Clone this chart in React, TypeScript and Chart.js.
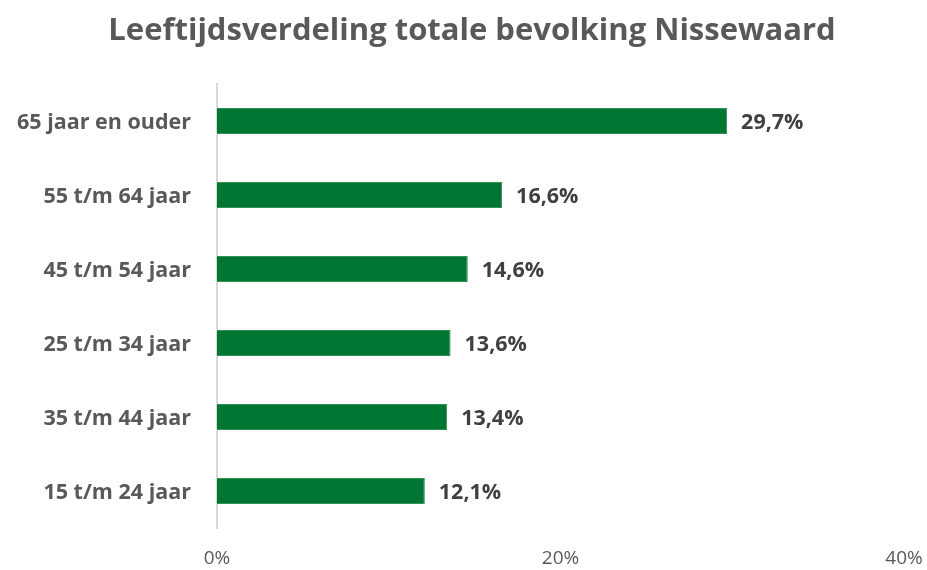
import React, { useEffect, useRef } from "react";
import { Chart, registerables } from "chart.js";

Chart.register(...registerables);

const categories = [
  "65 jaar en ouder",
  "55 t/m 64 jaar",
  "45 t/m 54 jaar",
  "25 t/m 34 jaar",
  "35 t/m 44 jaar",
  "15 t/m 24 jaar",
];
const values = [29.7, 16.6, 14.6, 13.6, 13.4, 12.1];
const xTicks = [0, 20, 40];
const titleText = "Leeftijdsverdeling totale bevolking Nissewaard";

const FONT = "'Open Sans', Lato, sans-serif";

const valueLabels = {
  id: "valueLabels",
  afterDatasetsDraw(chart: any) {
    const ctx = chart.ctx;
    const meta = chart.getDatasetMeta(0);
    ctx.save();
    ctx.font = `bold 21.5px ${FONT}`;
    ctx.fillStyle = "#404040";
    ctx.textAlign = "left";
    ctx.textBaseline = "middle";
    meta.data.forEach((bar: any, i: number) => {
      const txt = values[i].toFixed(1).replace(".", ",") + "%";
      ctx.fillText(txt, bar.x + 14, bar.y + 2);
    });
    ctx.restore();
  },
};

const titleDraw = {
  id: "titleDraw",
  afterDraw(chart: any) {
    const ctx = chart.ctx;
    ctx.save();
    ctx.font = `bold 31px ${FONT}`;
    ctx.fillStyle = "#595959";
    ctx.textAlign = "center";
    ctx.textBaseline = "middle";
    ctx.fillText(titleText, 472, 31);
    ctx.restore();
  },
};

export default function App() {
  const ref = useRef<HTMLCanvasElement>(null);
  useEffect(() => {
    if (!ref.current) return;
    const chart = new Chart(ref.current, {
      type: "bar",
      data: {
        labels: categories,
        datasets: [
          {
            data: values,
            backgroundColor: "#017532",
            borderColor: "#2f9152",
            borderWidth: 1,
            borderSkipped: "left",
            barPercentage: 0.35,
            categoryPercentage: 1,
          },
        ],
      },
      options: {
        indexAxis: "y",
        animation: false,
        responsive: false,
        devicePixelRatio: 1,
        layout: { padding: { left: 0, right: 23, top: 84, bottom: 0 } },
        plugins: {
          legend: { display: false },
          tooltip: { enabled: false },
          title: { display: false },
        },
        scales: {
          x: {
            min: 0,
            max: 40,
            afterBuildTicks: (scale: any) => {
              scale.ticks = xTicks.map((v) => ({ value: v }));
            },
            afterFit: (scale: any) => {
              scale.height = 42;
              scale.paddingLeft = 0;
              scale.paddingRight = 0;
            },
            grid: { display: false },
            border: { display: false },
            ticks: {
              color: "#595959",
              padding: 11,
              font: { family: FONT, size: 19 },
              callback: (v: any) => v + "%",
            },
          },
          y: {
            afterFit: (scale: any) => {
              scale.width = 217;
            },
            grid: { display: false },
            border: { display: true, color: "#d9d9d9", width: 2 },
            ticks: {
              color: "#595959",
              padding: 18,
              labelOffset: 2,
              font: { family: FONT, size: 21.5, weight: "bold" },
            },
          },
        },
      },
      plugins: [valueLabels, titleDraw],
    });
    return () => chart.destroy();
  }, []);
  return (
    <div style={{ position: "fixed", left: 0, top: 0, width: 927, height: 570, background: "#fff" }}>
      <canvas ref={ref} width={927} height={570} />
    </div>
  );
}
